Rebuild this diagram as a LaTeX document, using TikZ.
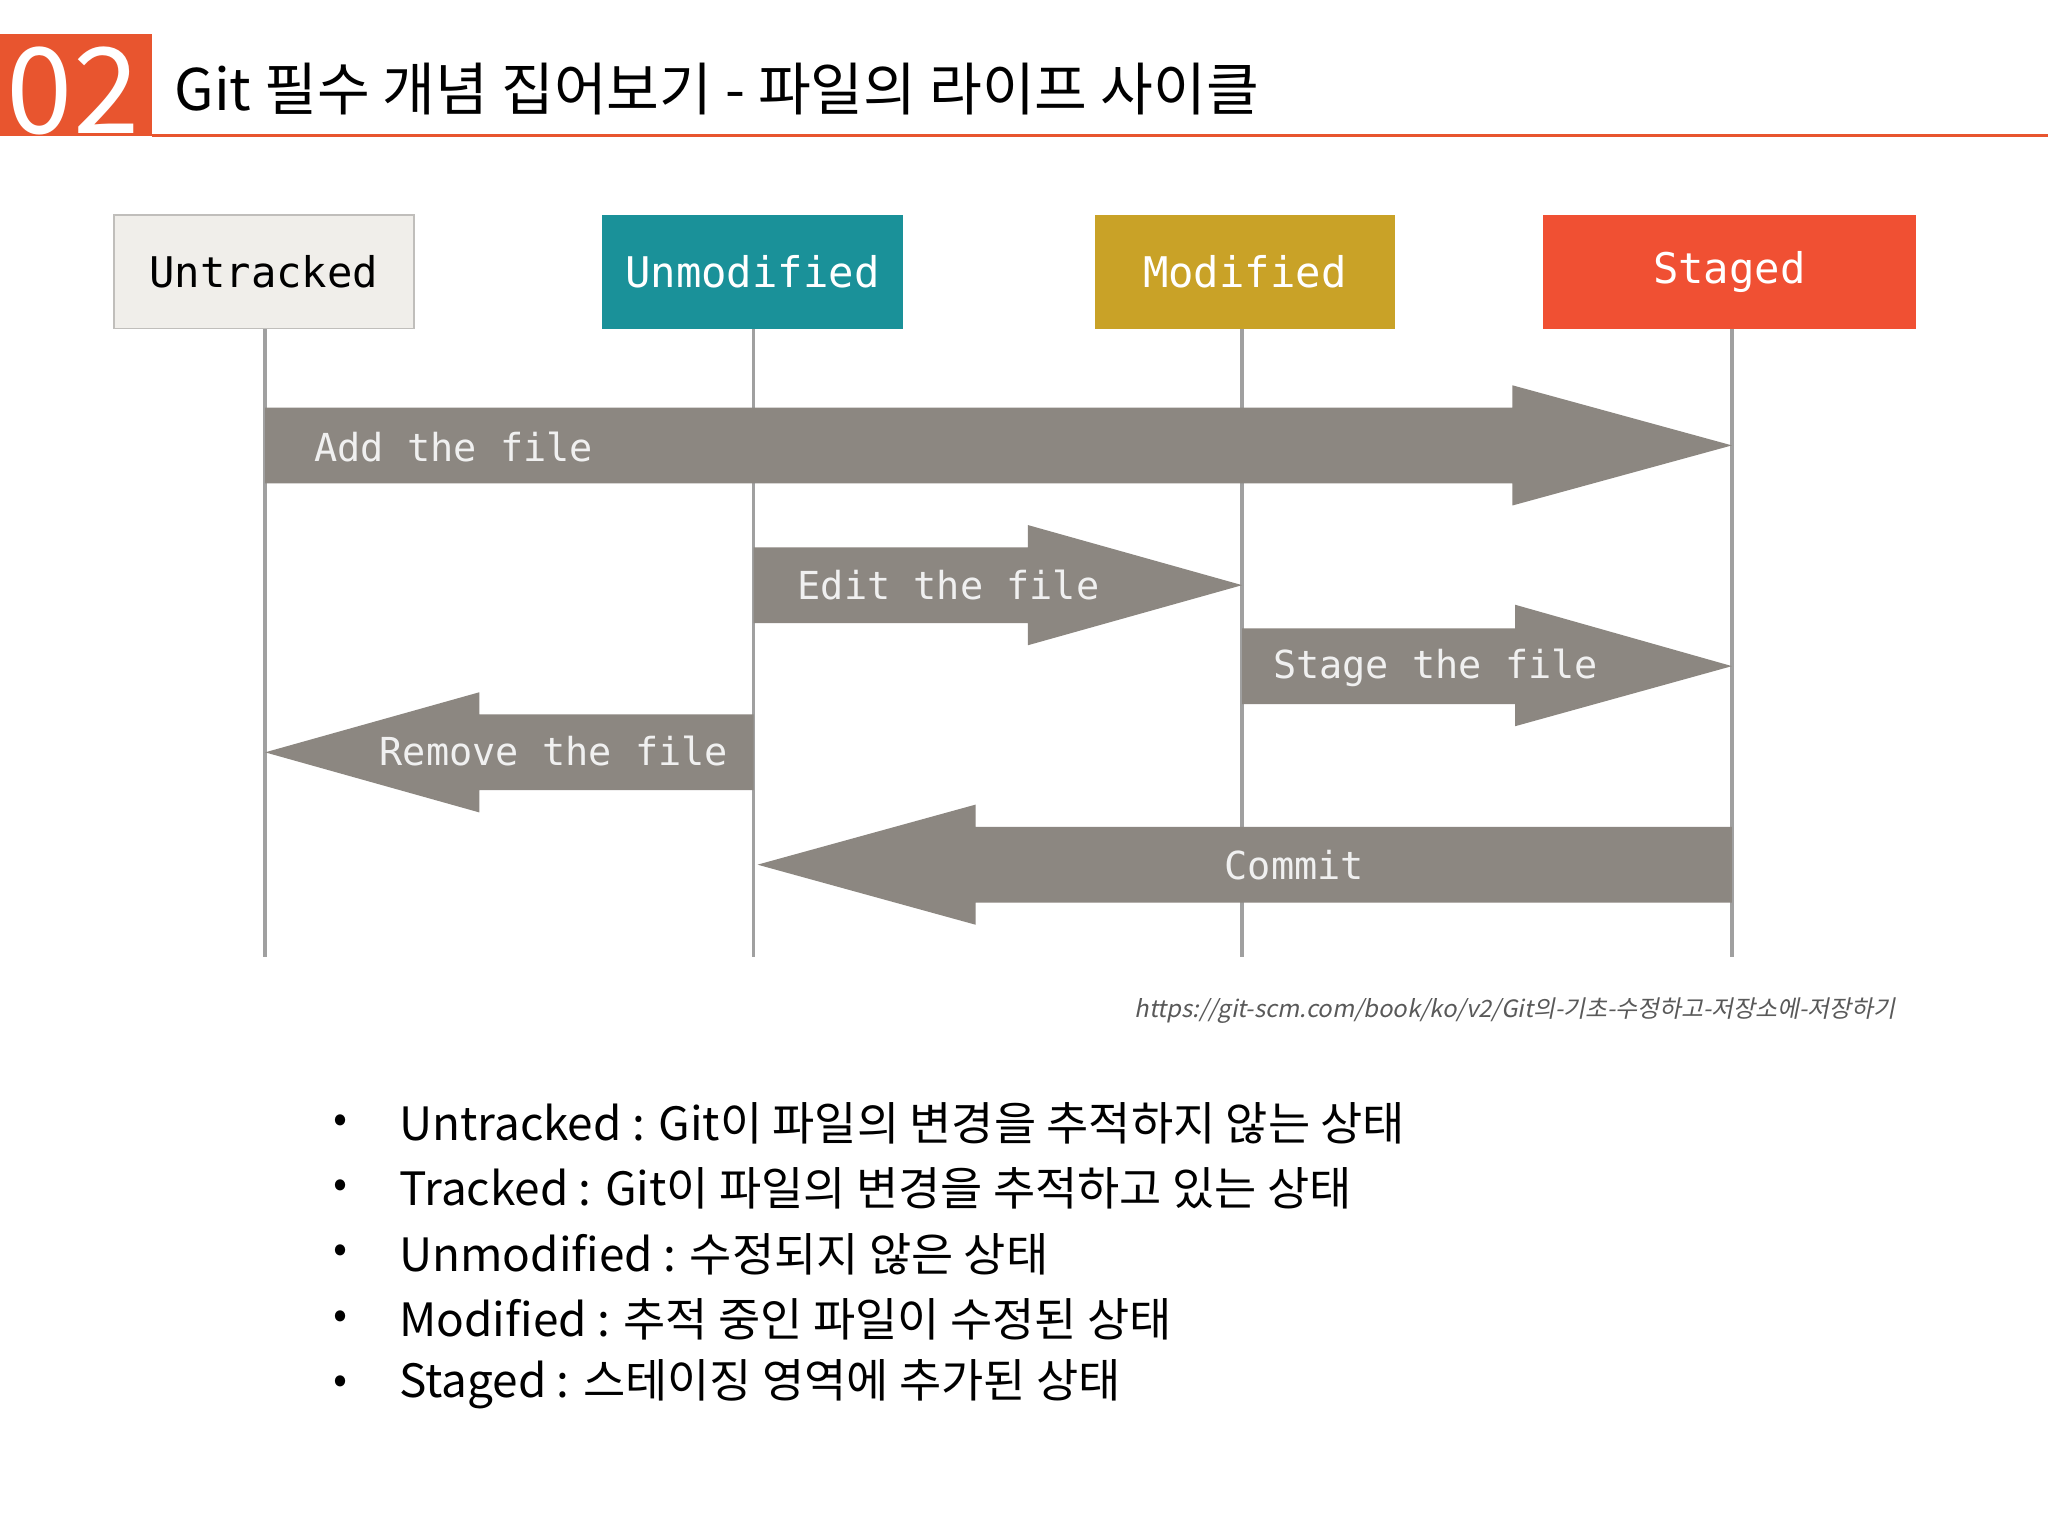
\documentclass[tikz,border=0pt]{standalone}
\usepackage{fontspec}
\setmainfont{Noto Sans CJK KR}
\setmonofont{DejaVu Sans Mono}
\newfontfamily\urlfont[FakeSlant=0.2]{Noto Sans CJK KR}
\usetikzlibrary{positioning}
\definecolor{gitorange}{HTML}{E8552F}
\definecolor{untrackedbg}{HTML}{F0EEEA}
\definecolor{unmodbg}{HTML}{1A9199}
\definecolor{modbg}{HTML}{C9A227}
\definecolor{stagedbg}{HTML}{F05033}
\definecolor{flowgray}{HTML}{8C8781}
\definecolor{lanegray}{HTML}{A0A0A0}
\tikzset{
  statebox/.style={minimum width=23mm,minimum height=8.7mm,inner sep=0pt,font=\ttfamily\fontsize{9.2pt}{10pt}\selectfont},
  flowlabel/.style={inner sep=0pt,text=white!94!black,font=\ttfamily\fontsize{8.4pt}{10pt}\selectfont},
  lane/.style={draw=lanegray,line width=0.8pt},
  bullettext/.style={anchor=west,inner sep=0pt,font=\fontsize{10pt}{12pt}\selectfont}
}
\begin{document}
\begin{tikzpicture}[x=0.1mm,y=-0.1mm]
	\useasboundingbox[fill=white] (0,0) rectangle (1568,1176);
	% header
	\fill[gitorange] (0,26) rectangle (116,104);
	\node[text=white,inner sep=0pt,font=\fontsize{26pt}{26pt}\selectfont] (num) at (56,70) {02};
	\draw[gitorange,line width=0.6pt] (116,104) -- (1568,104);
	\node[anchor=west,inner sep=0pt,font=\fontsize{12.5pt}{14pt}\selectfont] (title) at (133,68) {Git 필수 개념 집어보기 - 파일의 라이프 사이클};
	% states
	\node[statebox,fill=untrackedbg,draw=untrackedbg!80!black,text=black] (untracked) at (202,208) {Untracked};
	\node[statebox,fill=unmodbg,text=white] (unmodified) at (576,208) {Unmodified};
	\node[statebox,fill=modbg,text=white] (modified) at (953,208) {Modified};
	\node[statebox,fill=stagedbg,text=white,minimum width=28.6mm] (staged) at (1324,208) {Staged};
	% lanes
	\draw[lane] (203,252) -- (203,733);
	\draw[lane] (577,252) -- (577,733);
	\draw[lane] (951,252) -- (951,733);
	\draw[lane] (1326,252) -- (1326,733);
	% transitions
	\fill[flowgray] (203,312) -- (1158,312) -- (1158,295) -- (1326,341) -- (1158,387) -- (1158,370) -- (203,370) -- cycle;
	\fill[flowgray] (577,419) -- (787,419) -- (787,402) -- (951,448) -- (787,494) -- (787,477) -- (577,477) -- cycle;
	\fill[flowgray] (951,481) -- (1160,481) -- (1160,463) -- (1326,510) -- (1160,556) -- (1160,539) -- (951,539) -- cycle;
	\fill[flowgray] (577,547) -- (367,547) -- (367,530) -- (203,576) -- (367,622) -- (367,605) -- (577,605) -- cycle;
	\fill[flowgray] (1326,633) -- (747,633) -- (747,616) -- (580,662) -- (747,708) -- (747,691) -- (1326,691) -- cycle;
	\node[flowlabel,anchor=west] (add) at (240,342) {Add the file};
	\node[flowlabel,anchor=west] (edit) at (610,448) {Edit the file};
	\node[flowlabel,anchor=west] (stage) at (974,511) {Stage the file};
	\node[flowlabel] (remove) at (424,575) {Remove the file};
	\node[flowlabel] (commit) at (991,662) {Commit};
	% source
	\node[anchor=east,inner sep=0pt,text=black!65,font=\urlfont\fontsize{5.2pt}{6pt}\selectfont] (source) at (1452,774) {https://git-scm.com/book/ko/v2/Git의-기초-수정하고-저장소에-저장하기};
	% notes
	\foreach \y/\t [count=\i] in {860/{Untracked : Git이 파일의 변경을 추적하지 않는 상태},
		910/{Tracked : Git이 파일의 변경을 추적하고 있는 상태},
		960/{Unmodified : 수정되지 않은 상태},
		1010/{Modified : 추적 중인 파일이 수정된 상태},
		1060/{Staged : 스테이징 영역에 추가된 상태}}{
		\node[inner sep=0pt,font=\fontsize{9pt}{10pt}\selectfont] (dot\i) at (261,\y) {•};
		\node[bullettext] (note\i) at (305,\y) {\t};
	}
\end{tikzpicture}
\end{document}
